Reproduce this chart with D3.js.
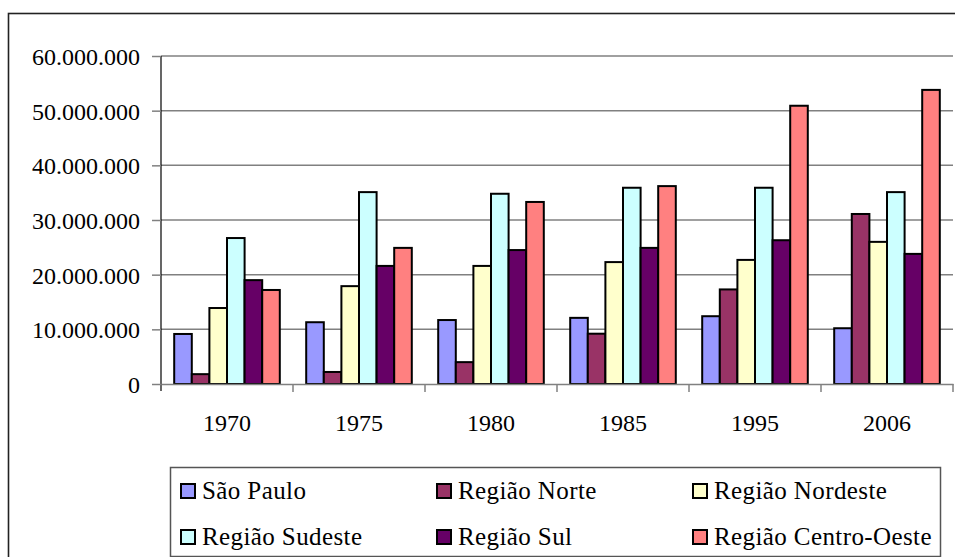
<!DOCTYPE html>
<html>
<head>
<meta charset="utf-8">
<script src="https://cdn.jsdelivr.net/npm/d3@7"></script>
</head>
<body style="margin:0">
<div id="chart"></div>
<script>
var anos = ["1970", "1975", "1980", "1985", "1995", "2006"];
var regioes = ["São Paulo", "Região Norte", "Região Nordeste", "Região Sudeste", "Região Sul", "Região Centro-Oeste"];
var cores = ["#9999FF", "#993366", "#FFFFCC", "#CCFFFF", "#660066", "#FF8080"];

var saoPaulo    = [9150000, 11300000, 11700000, 12100000, 12400000, 10200000];
var norte       = [1800000, 2200000, 4000000, 9200000, 17300000, 31100000];
var nordeste    = [13900000, 17900000, 21600000, 22300000, 22700000, 26000000];
var sudeste     = [26700000, 35100000, 34800000, 35900000, 35900000, 35100000];
var sul         = [19000000, 21600000, 24500000, 24900000, 26300000, 23800000];
var centroOeste = [17200000, 24900000, 33300000, 36200000, 50900000, 53800000];

var yTicks = [0, 10000000, 20000000, 30000000, 40000000, 50000000, 60000000];

var series = [saoPaulo, norte, nordeste, sudeste, sul, centroOeste];

function serifa(sel, tam) {
    sel.style("font-family", function () { return "'" + "Liberation Serif" + "'"; })
        .style("font-size", tam + "px")
        .attr("fill", "#000");
}

function plot() {
    var width = 955, height = 557;
    var left = 161, right = 953, top = 56, bottom = 384;

    var svg = d3.select("#chart").append("svg")
        .attr("width", width)
        .attr("height", height);

    // moldura externa (cortada a direita e embaixo)
    svg.append("rect")
        .attr("x", 8.5).attr("y", 13.5)
        .attr("width", 1000).attr("height", 600)
        .style("fill", "none")
        .style("stroke", "#222")
        .style("stroke-width", 1.6);

    var x0 = d3.scaleBand().domain(anos).range([left, right]).padding(0);
    var x1 = d3.scaleBand().domain(d3.range(regioes.length))
        .range([0, x0.bandwidth()]).paddingInner(0).paddingOuter(0.75);
    var y = d3.scaleLinear().domain([0, 60000000]).range([bottom, top]);

    var loc = d3.formatLocale({decimal: ",", thousands: ".", grouping: [3], currency: ["", ""]});
    var fmt = loc.format(",d");

    // linhas de grade
    svg.append("g").selectAll("line")
        .data(yTicks.slice(1))
        .enter().append("line")
        .attr("x1", left).attr("x2", right)
        .attr("y1", function (d) { return y(d); })
        .attr("y2", function (d) { return y(d); })
        .style("stroke", "#808080")
        .style("stroke-width", 1.5);

    // barras
    anos.forEach(function (ano, i) {
        svg.append("g")
            .attr("transform", "translate(" + x0(ano) + ",0)")
            .selectAll("rect")
            .data(series.map(function (s, j) { return {j: j, v: s[i]}; }))
            .enter().append("rect")
            .attr("x", function (d) { return x1(d.j); })
            .attr("width", x1.bandwidth())
            .attr("y", function (d) { return y(d.v); })
            .attr("height", function (d) { return bottom - y(d.v); })
            .style("fill", function (d) { return cores[d.j]; })
            .style("stroke", "#000")
            .style("stroke-width", 2);
    });

    // eixo y
    var yAxis = svg.append("g")
        .attr("transform", "translate(" + left + ",0)")
        .call(d3.axisLeft(y).tickValues(yTicks).tickFormat(fmt).tickSize(9).tickPadding(12));
    yAxis.select(".domain").attr("d", "M0," + top + "V" + (bottom + 7))
        .style("stroke", "#000").style("stroke-width", 1.2);
    yAxis.selectAll(".tick line").style("stroke", "#808080").style("stroke-width", 1.5);
    yAxis.selectAll("text").call(serifa, 24).attr("dy", "0.36em");

    // eixo x
    var xAxis = svg.append("g")
        .attr("transform", "translate(0," + bottom + ")")
        .call(d3.axisBottom(x0).tickSize(0).tickPadding(30));
    xAxis.select(".domain").style("stroke", "#808080").style("stroke-width", 1.5);
    xAxis.selectAll("text").call(serifa, 24);
    xAxis.selectAll("line.sep")
        .data(anos.slice(1).concat(["fim"]))
        .enter().append("line")
        .attr("class", "sep")
        .attr("x1", function (d, i) { return left + (i + 1) * x0.step(); })
        .attr("x2", function (d, i) { return left + (i + 1) * x0.step(); })
        .attr("y1", 0).attr("y2", 8)
        .style("stroke", "#808080").style("stroke-width", 1.5);

    // legenda
    var legenda = svg.append("g");
    legenda.append("rect")
        .attr("x", 170.5).attr("y", 467.5)
        .attr("width", 770).attr("height", 89)
        .style("fill", "#fff")
        .style("stroke", "#555")
        .style("stroke-width", 1.5);

    var item = legenda.selectAll("g.item")
        .data(regioes)
        .enter().append("g")
        .attr("class", "item")
        .attr("transform", function (d, i) {
            return "translate(" + (181 + (i % 3) * 256) + "," + (484 + Math.floor(i / 3) * 46) + ")";
        });
    item.append("rect")
        .attr("width", 14).attr("height", 14)
        .style("fill", function (d, i) { return cores[i]; })
        .style("stroke", "#000")
        .style("stroke-width", 2);
    item.append("text")
        .attr("x", 21).attr("y", 15)
        .call(serifa, 25)
        .style("letter-spacing", "0.4px")
        .text(function (d) { return d; });
}

plot();
</script>
</body>
</html>
